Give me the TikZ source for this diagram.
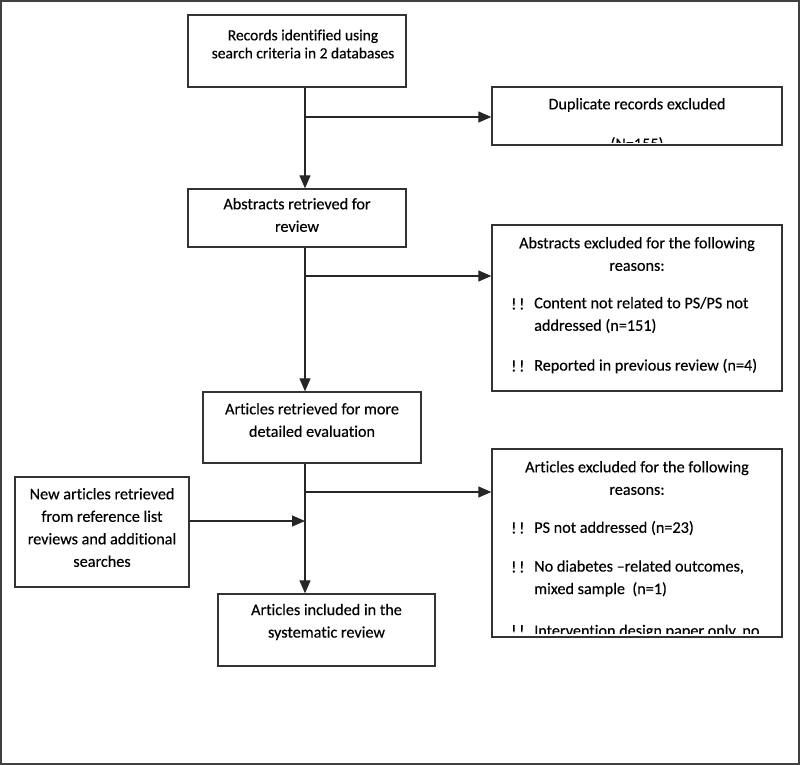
\documentclass[tikz,border=0pt]{standalone}
\usepackage{fontspec}
\setmainfont{Carlito}[Ligatures={NoCommon}, FakeBold=0.3]
\usetikzlibrary{arrows.meta}

\tikzset{
  flowbox/.style={draw=black!80, line width=1.3pt, inner sep=0pt},
  boxtext/.style={align=center, inner sep=0pt, font=\fontsize{16.2}{22.5}\selectfont},
  smalltext/.style={align=center, inner sep=0pt, font=\fontsize{15.5}{18}\selectfont},
  listtext/.style={align=left, inner sep=0pt, anchor=west, font=\fontsize{16.2}{22.5}\selectfont},
  flowline/.style={draw=black!85, line width=1.2pt},
  flowarrow/.style={flowline, -{Triangle[length=13pt,width=11pt]}},
}
\newcommand{\bang}{!\,!}

\begin{document}
\begin{tikzpicture}[x=1pt,y=-1pt]
    \useasboundingbox (0,0) rectangle (800,765);
    \draw [line width=1.5pt, black!75] (1,1) rectangle (799,764);

    % boxes
    \node [flowbox, minimum width=218, minimum height=72]  (records)   at (297,51)    {};
    \node [flowbox, minimum width=290, minimum height=58]  (duplicate) at (637,116)   {};
    \node [flowbox, minimum width=218, minimum height=58]  (abstracts) at (297,218)   {};
    \node [flowbox, minimum width=290, minimum height=166] (absexcl)   at (637,308)   {};
    \node [flowbox, minimum width=218, minimum height=71]  (artret)    at (312,427.5) {};
    \node [flowbox, minimum width=290, minimum height=188] (artexcl)   at (637,543)   {};
    \node [flowbox, minimum width=174, minimum height=110] (newart)    at (102,532)   {};
    \node [flowbox, minimum width=217, minimum height=72]  (included)  at (326.5,630) {};

    % texts
    \node [smalltext] (records text) at (303,44) {Records identified using\\search criteria in 2 databases};
    \node [boxtext] (duplicate text) at (637,105) {Duplicate records excluded};
    \begin{scope}
        \clip (duplicate.north west) rectangle ([yshift=3pt]duplicate.south east);
        \node [boxtext, anchor=base] (duplicate n) at (637,149) {(N=155)};
    \end{scope}
    \node [boxtext] (abstracts text) at (297,215) {Abstracts retrieved for\\review};
    \node [boxtext] (absexcl head) at (637,254) {Abstracts excluded for the following\\reasons:};
    \node [listtext] (absexcl b1) at (511,304) {\bang};
    \node [listtext] (absexcl r1) at (534,315) {Content not related to PS/PS not\\addressed (n=151)};
    \node [listtext] (absexcl b2) at (511,366) {\bang};
    \node [listtext] (absexcl r2) at (534,366) {Reported in previous review (n=4)};
    \node [boxtext] (artret text) at (312,420) {Articles retrieved for more\\detailed evaluation};
    \node [boxtext] (artexcl head) at (637,478) {Articles excluded for the following\\reasons:};
    \node [listtext] (artexcl b1) at (511,528) {\bang};
    \node [listtext] (artexcl r1) at (534,528) {PS not addressed (n=23)};
    \node [listtext] (artexcl b2) at (511,567) {\bang};
    \node [listtext] (artexcl r2) at (534,578.5) {No diabetes \textendash related outcomes,\\mixed sample\ \ (n=1)};
    \begin{scope}
        \clip (artexcl.north west) rectangle ([yshift=4pt]artexcl.south east);
        \node [listtext, anchor=base west] (artexcl b3) at (511,636) {\bang};
        \node [listtext, anchor=base west] (artexcl r3) at (534,636) {Intervention design paper only, no};
    \end{scope}
    \node [boxtext] (newart text) at (102,527.5) {New articles retrieved\\from reference list\\reviews and additional\\searches};
    \node [boxtext] (included text) at (326.5,622) {Articles included in the\\systematic review};

    % connectors
    \coordinate (spine) at (305,0);
    \coordinate (split1) at (305,117);
    \coordinate (split2) at (305,276);
    \coordinate (split3) at (305,492);
    \coordinate (join) at (305,521);
    \draw [flowarrow] (records.south -| spine) -- (abstracts.north -| spine);
    \draw [flowarrow] (split1) -- (split1 -| duplicate.west);
    \draw [flowarrow] (abstracts.south -| spine) -- (artret.north -| spine);
    \draw [flowarrow] (split2) -- (split2 -| absexcl.west);
    \draw [flowarrow] (artret.south -| spine) -- (included.north -| spine);
    \draw [flowarrow] (split3) -- (split3 -| artexcl.west);
    \draw [flowarrow] (newart.east |- join) -- (join);
\end{tikzpicture}
\end{document}
